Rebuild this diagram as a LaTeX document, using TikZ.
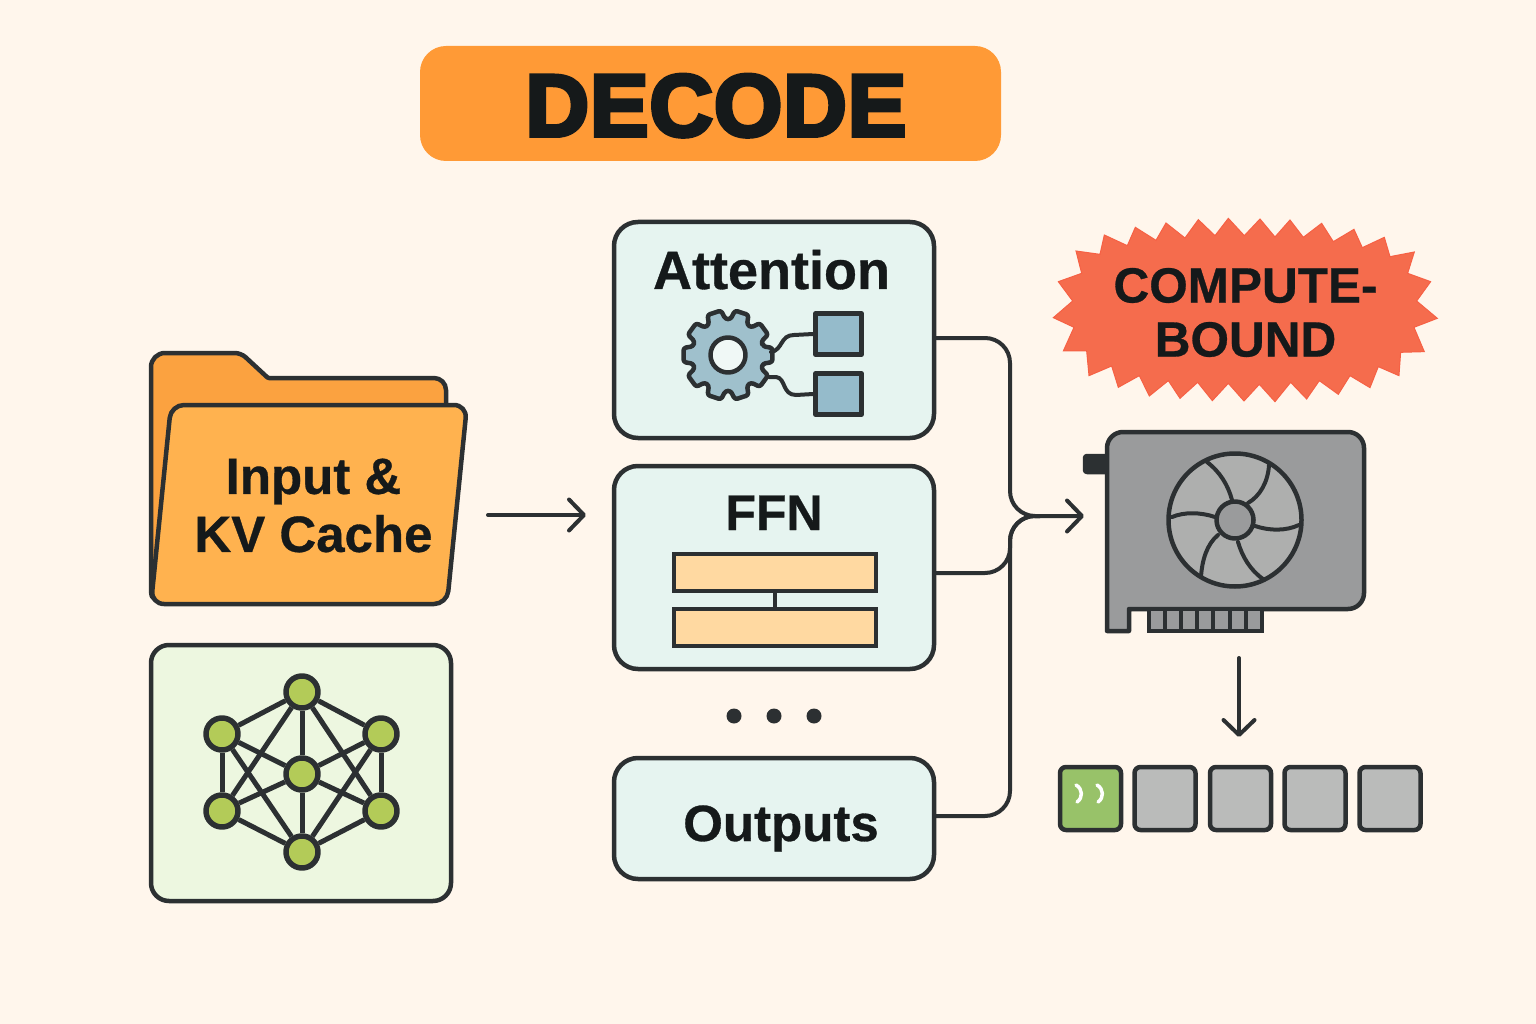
\documentclass[tikz,border=0pt]{standalone}
\usepackage{fontspec}
\setmainfont[BoldFeatures={FakeBold=0.6}]{Liberation Sans}
\newfontfamily\heavyfont[BoldFeatures={FakeBold=4.5,LetterSpace=1}]{Liberation Sans}
\usetikzlibrary{arrows.meta,positioning,calc}

\definecolor{paper}{HTML}{FFF6EC}
\definecolor{inkDark}{HTML}{2C3032}
\definecolor{inkText}{HTML}{15191A}
\definecolor{titleOrange}{HTML}{FF9A36}
\definecolor{folderBack}{HTML}{FBA240}
\definecolor{folderFront}{HTML}{FFB24F}
\definecolor{blockTeal}{HTML}{E6F4F0}
\definecolor{netGreen}{HTML}{EDF7E0}
\definecolor{netDot}{HTML}{B3CB58}
\definecolor{gearBlue}{HTML}{9FC0CC}
\definecolor{squareBlue}{HTML}{95BBCB}
\definecolor{barPeach}{HTML}{FFD9A1}
\definecolor{burstRed}{HTML}{F56C4D}
\definecolor{cardGray}{HTML}{9A9B9C}
\definecolor{fanGray}{HTML}{AEAFAE}
\definecolor{tokenGray}{HTML}{BABBBA}
\definecolor{tokenGreen}{HTML}{98C269}

\tikzset{
    outline/.style={draw=inkDark, line width=4.5pt, line join=round},
    block/.style={outline, fill=blockTeal, rounded corners=24pt, minimum width=320pt},
    label/.style={text=inkText, font=\fontsize{51}{58}\selectfont\bfseries, inner sep=0pt, align=center},
    wire/.style={draw=inkDark, line width=4pt, line cap=round},
    flow/.style={wire, -{Straight Barb[length=15pt,width=31pt,round]}},
    netnode/.style={circle, outline, line width=5.5pt, fill=netDot, minimum size=32pt, inner sep=0pt},
    netedge/.style={draw=inkDark, line width=5pt},
    token/.style={outline, fill=tokenGray, rounded corners=6pt, minimum width=61pt, minimum height=63pt, inner sep=0pt},
    bar/.style={draw=inkDark, line width=4pt, fill=barPeach, minimum width=202pt, minimum height=37pt, inner sep=0pt},
    smallsq/.style={outline, fill=squareBlue, minimum width=46pt, minimum height=41pt, inner sep=0pt},
    dot/.style={circle, fill=inkDark, minimum size=15pt, inner sep=0pt}
}

\begin{document}
\begin{tikzpicture}[x=1pt,y=-1pt]
    \useasboundingbox[fill=paper] (0,0) rectangle (1536,1024);

    % Title
    \node[fill=titleOrange, rounded corners=26pt, minimum width=581pt, minimum height=115pt, inner sep=0pt] (titleBox) at (710.5,103.5) {};
    \node[text=inkText, inner sep=0pt, anchor=base, font=\heavyfont\fontsize{88}{90}\selectfont\bfseries] (titleText) at (716,136) {DECODE};

    % Folder
    \draw[outline, fill=folderBack] (151,604) [rounded corners=14pt] -- (151,353) [rounded corners=6pt] -- (241,353) [rounded corners=1pt] -- (268,378) [rounded corners=12pt] -- (446,378) -- (446,430) -- cycle;
    \draw[outline, fill=folderFront, rounded corners=13pt] (171,405) -- (467,405) -- (447,604) -- (151,604) -- cycle;
    \node[label] (folderText) at (313.5,505.5) {Input \&\\KV Cache};

    % Network
    \node[outline, fill=netGreen, rounded corners=18pt, minimum width=300pt, minimum height=256pt] (netBox) at (301,773) {};
    \node[netnode] (nTop) at (302,692) {};
    \node[netnode] (nUL) at (222,734) {};
    \node[netnode] (nUR) at (381,734) {};
    \node[netnode] (nMid) at (302,774) {};
    \node[netnode] (nLL) at (222,811) {};
    \node[netnode] (nLR) at (381,811) {};
    \node[netnode] (nBot) at (302,852) {};
    \foreach \a/\b in {nTop/nUL,nTop/nUR,nTop/nMid,nTop/nLL,nTop/nLR,nUL/nLL,nUR/nLR,nUL/nMid,nUR/nMid,nLL/nMid,nLR/nMid,nMid/nBot,nLL/nBot,nLR/nBot,nUL/nBot,nUR/nBot}
        \draw[netedge] (\a) -- (\b);

    % Blocks
    \node[block, minimum height=216pt] (attention) at (774,330) {};
    \node[block, minimum height=203pt] (ffn) at (774,567.5) {};
    \node[block, minimum height=121pt] (outputs) at (774,818.5) {};
    \node[label, anchor=base, font=\fontsize{54}{58}\selectfont\bfseries] (attentionText) at (771.5,289) {Attention};
    \node[label, anchor=base, font=\fontsize{50}{58}\selectfont\bfseries] (ffnText) at (774,530) {FFN};
    \node[label, anchor=base] (outputsText) at (781,841) {Outputs};

    % Gear
    \begin{scope}[shift={(728,355)}]
        \draw[outline, fill=gearBlue, rounded corners=2.5pt] (-14:36)
            \foreach \k in {0,36,...,324} {
                -- ({\k-14}:36) -- ({\k-9}:45) -- ({\k+9}:45) -- ({\k+14}:36)
            } -- cycle;
    \end{scope}
    \node[circle, outline, fill=blockTeal!60!white, minimum size=35pt, inner sep=0pt] (gearHole) at (728,355) {};
    \node[smallsq] (squareA) at (838.5,334) {};
    \node[smallsq] (squareB) at (838.5,394) {};
    \coordinate (gearOutA) at (771,352);
    \coordinate (gearOutB) at (769,377);
    \draw[wire] (gearOutA) .. controls (783,350) and (780,335) .. (794,335) -- (squareA.west);
    \draw[wire] (gearOutB) -- (776,377) .. controls (786,378) and (782,395) .. (796,395) -- (squareB.west);

    % Bars
    \node[bar] (barA) at (775,572.5) {};
    \node[bar] (barB) at (775,627.5) {};
    \draw[wire, line width=3.5pt, line cap=butt] (barA) -- (barB);

    % Dots
    \node[dot] (dotA) at (734,716) {};
    \node[dot] (dotB) at (774,716) {};
    \node[dot] (dotC) at (814,716) {};

    % Burst
    \begin{scope}[shift={(1040,205)}, x=0.3333pt, y=-0.3333pt]
        \draw[fill=burstRed, draw=burstRed!90!red, line width=1pt, line join=miter]
            (40,338) -- (98,288) -- (55,230) -- (125,205) -- (108,138) -- (180,148) -- (193,90) -- (262,122)
            -- (286,67) -- (348,106) -- (378,54) -- (435,99) -- (475,44) -- (525,92) -- (565,40) -- (613,92)
            -- (660,42) -- (705,96) -- (750,45) -- (790,97) -- (845,55) -- (880,110) -- (942,73) -- (967,128)
            -- (1033,97) -- (1050,155) -- (1123,141) -- (1103,205) -- (1172,230) -- (1130,288) -- (1192,340)
            -- (1122,367) -- (1153,440) -- (1082,442) -- (1077,512) -- (1015,485) -- (990,548) -- (930,512)
            -- (895,568) -- (838,527) -- (800,582) -- (752,532) -- (705,590) -- (658,538) -- (612,588)
            -- (565,535) -- (517,587) -- (473,532) -- (420,580) -- (385,527) -- (328,573) -- (298,512)
            -- (235,547) -- (215,483) -- (147,512) -- (140,438) -- (70,438) -- (102,367) -- cycle;
    \end{scope}
    \node[label, font=\fontsize{49.5}{54}\selectfont\bfseries] (burstText) at (1245.5,312.5) {COMPUTE-\\BOUND};

    % Card
    \draw[outline, fill=inkDark, rounded corners=2pt] (1085,456) rectangle (1108,472);
    \draw[outline, fill=cardGray] (1107,631) [rounded corners=16pt] -- (1107,432) -- (1364,432) -- (1364,609) [sharp corners] -- (1129,609) -- (1129,631) -- cycle;
    \draw[draw=inkDark, line width=4pt, fill=cardGray] (1149,609) rectangle (1262,631);
    \foreach \i in {1,...,6}
        \draw[draw=inkDark, line width=4pt] ({1149+16.1*\i},609) -- ({1149+16.1*\i},631);

    % Fan
    \node[circle, outline, fill=fanGray, minimum size=133pt, inner sep=0pt] (fan) at (1235,520) {};
    \draw[wire] (1232,500) .. controls (1228,485) and (1220,472) .. (1207,462);
    \draw[wire] (1248,503) .. controls (1260,496) and (1268,482) .. (1269,465);
    \draw[wire] (1255,526) .. controls (1270,531) and (1286,531) .. (1299,525);
    \draw[wire] (1238,542) .. controls (1242,556) and (1250,570) .. (1263,579);
    \draw[wire] (1218,535) .. controls (1207,544) and (1202,560) .. (1201,577);
    \draw[wire] (1215,517) .. controls (1200,512) and (1184,512) .. (1172,517);
    \node[circle, outline, fill=cardGray, minimum size=37pt, inner sep=0pt] (fanHub) at (1235,520) {};

    % Tokens
    \node[token, fill=tokenGreen] (tokenA) at (1090.5,798.5) {};
    \foreach \x/\n in {1165/tokenB,1240.5/tokenC,1315/tokenD,1390/tokenE}
        \node[token] (\n) at (\x,798.5) {};
    \foreach \x in {1076,1097}
        \draw[white, line width=3.5pt, line cap=round] (\x,785) .. controls (\x+7,789) and (\x+7,798) .. (\x+1,802);

    % Connectors
    \coordinate (inStart) at (488,515);
    \coordinate (inEnd) at (586,515);
    \coordinate (merge) at (1010,516);
    \coordinate (mergeEnd) at (1040,516);
    \coordinate (cardIn) at (1084,516);
    \coordinate (cardOut) at (1239,658);
    \coordinate (tokensIn) at (1239,737);
    \draw[flow] (inStart) -- (inEnd);
    \draw[flow, rounded corners=25pt] ([yshift=-8pt]attention.east) -| (merge) -- (cardIn);
    \draw[wire, rounded corners=25pt] ([yshift=-5.5pt]ffn.east) -| (merge) -- (mergeEnd);
    \draw[wire, rounded corners=25pt] ([yshift=2.5pt]outputs.east) -| (merge) -- (mergeEnd);
    \draw[flow] (cardOut) -- (tokensIn);
\end{tikzpicture}
\end{document}
